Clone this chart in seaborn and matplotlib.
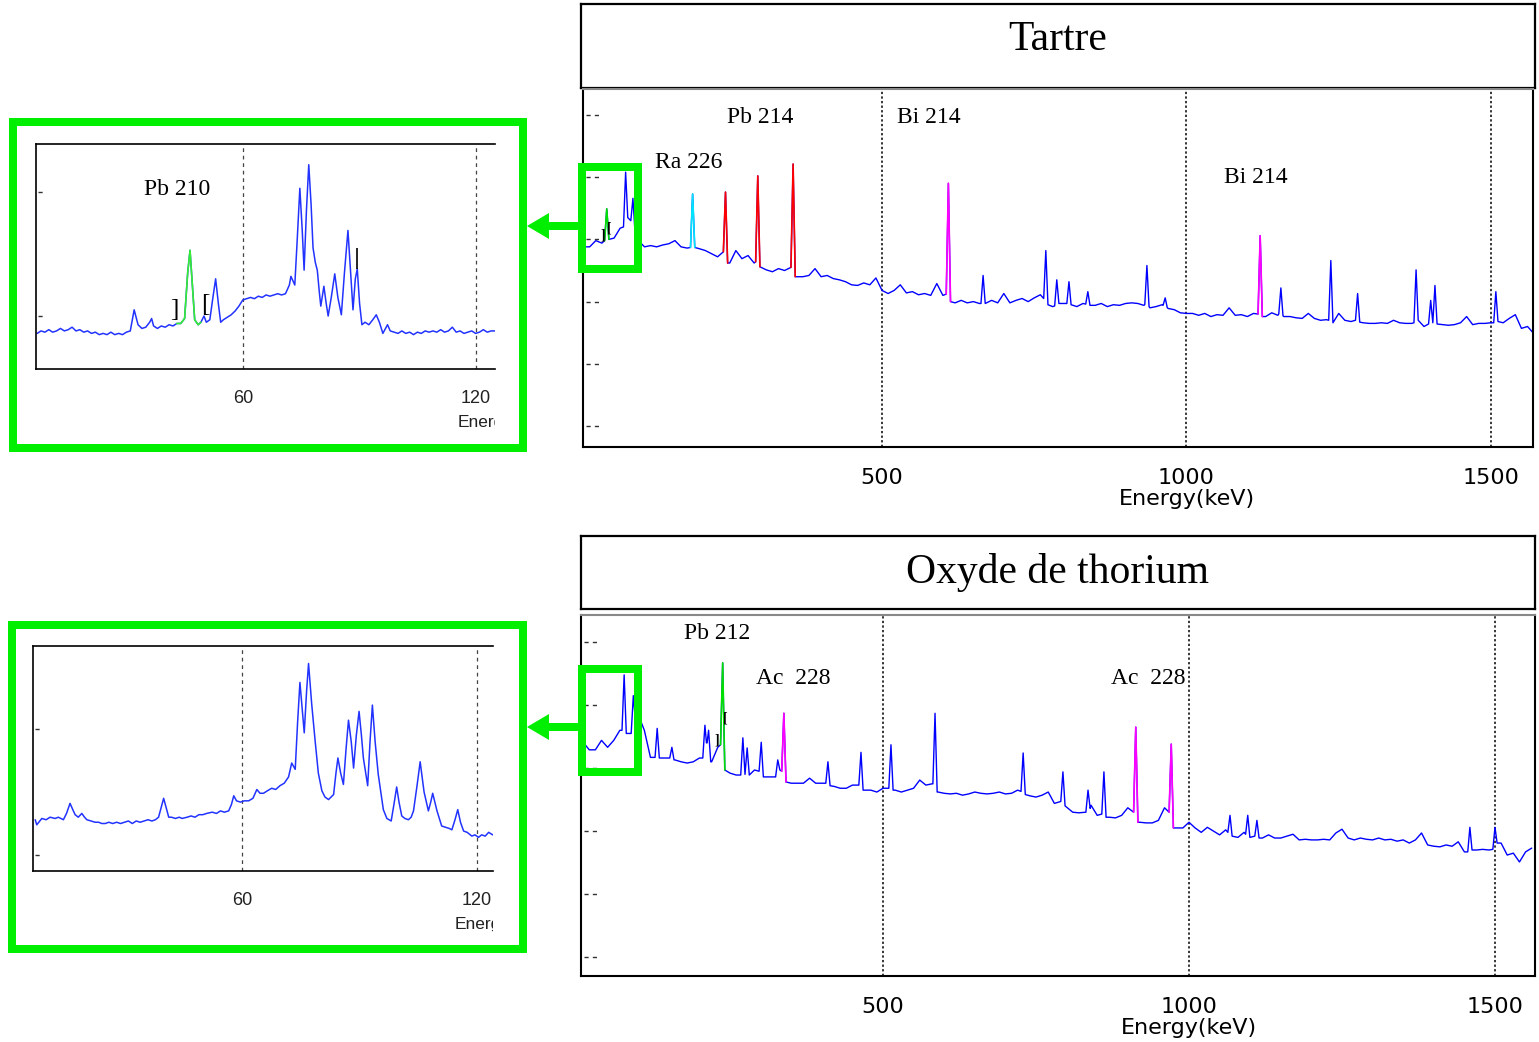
import numpy as np
import pandas as pd
import matplotlib
matplotlib.use('Agg')
import matplotlib.pyplot as plt
import seaborn as sns
from matplotlib.patches import Rectangle, Polygon
from matplotlib.transforms import Bbox, TransformedBbox

sns.set_style('white')
plt.rcParams['font.family'] = ['DejaVu Sans']
plt.rcParams['text.color'] = 'black'
plt.rcParams['xtick.labelcolor'] = 'black'

# ---- data: levels are log10(counts) as shown on the screens ----
# Tartre, baseline every 10 keV from 10 keV
tartre_base = [
    2.88, 2.88, 2.98, 2.94, 3.04, 3.02, 3.18, 3.38, 3.22, 2.98,
    2.88, 2.90, 2.88, 2.91, 2.93, 2.98, 2.88, 2.86, 2.88, 2.85,
    2.82, 2.77, 2.72, 2.82, 2.62, 2.82, 2.69, 2.74, 2.62, 2.56,
    2.51, 2.48, 2.53, 2.50, 2.56, 2.40, 2.40, 2.42, 2.53, 2.40,
    2.42, 2.37, 2.35, 2.32, 2.27, 2.26, 2.30, 2.27, 2.38, 2.18,
    2.13, 2.18, 2.27, 2.14, 2.16, 2.11, 2.13, 2.10, 2.29, 2.10,
    2.02, 1.98, 2.02, 1.98, 2.00, 1.97, 1.97, 2.02, 1.98, 2.13,
    1.98, 2.02, 2.05, 2.00, 2.06, 2.11, 1.98, 1.92, 1.98, 1.97,
    1.95, 1.92, 1.97, 1.94, 1.94, 1.97, 1.92, 1.95, 1.94, 1.97,
    1.98, 1.97, 1.94, 1.90, 1.92, 1.95, 1.89, 1.87, 1.82, 1.81,
    1.81, 1.78, 1.81, 1.76, 1.79, 1.78, 1.90, 1.78, 1.79, 1.76,
    1.81, 1.84, 1.76, 1.82, 1.78, 1.76, 1.76, 1.74, 1.73, 1.81,
    1.73, 1.70, 1.71, 1.66, 1.81, 1.70, 1.68, 1.70, 1.66, 1.65,
    1.65, 1.66, 1.65, 1.70, 1.66, 1.65, 1.65, 1.73, 1.60, 1.66,
    1.73, 1.63, 1.62, 1.63, 1.66, 1.76, 1.63, 1.65, 1.65, 1.66,
    1.70, 1.66, 1.73, 1.79, 1.57, 1.60, 1.49]
# peaks: energy, top, left foot, right foot
tartre_peaks = [
    (48, 3.49, 2.98, 3.00), (79, 4.08, 3.20, 3.35), (91, 3.66, 3.30, 3.10),
    (189, 3.73, 2.87, 2.87), (243, 3.76, 2.80, 2.62), (296, 4.02, 2.64, 2.56),
    (354, 4.21, 2.55, 2.40), (609, 3.90, 2.12, 2.00), (666, 2.42, 1.97, 1.97),
    (769, 2.82, 2.05, 1.95), (787, 2.35, 1.93, 1.97), (807, 2.32, 1.97, 1.95),
    (838, 2.16, 1.96, 1.94), (935, 2.58, 1.95, 1.92), (965, 2.06, 1.94, 1.90),
    (1121, 3.06, 1.80, 1.76), (1155, 2.22, 1.80, 1.77), (1237, 2.66, 1.70, 1.66),
    (1281, 2.13, 1.70, 1.67), (1377, 2.51, 1.66, 1.70), (1401, 2.02, 1.64, 1.66),
    (1408, 2.26, 1.66, 1.64), (1508, 2.16, 1.66, 1.68)]
tartre_roi = [(48, '#00e000'), (189, '#00e5ff'), (243, '#ff0000'), (296, '#ff0000'),
              (354, '#ff0000'), (609, '#ff00ff'), (1121, '#ff00ff')]
tartre_labels = [('Pb 214', 300, 4.96), ('Ra 226', 183, 4.24),
                 ('Bi 214', 577, 4.96), ('Bi 214', 1114, 4.0)]

# Oxyde de thorium
thorium_base = [
    3.41, 3.29, 3.29, 3.44, 3.33, 3.44, 3.60, 3.55, 3.75, 3.85,
    3.60, 3.17, 3.20, 3.16, 3.16, 3.13, 3.10, 3.08, 3.10, 3.16,
    3.40, 3.10, 3.33, 2.97, 2.92, 2.89, 2.90, 2.89, 2.97, 2.90,
    2.86, 2.86, 2.97, 2.80, 2.76, 2.76, 2.76, 2.84, 2.76, 2.76,
    2.74, 2.71, 2.68, 2.68, 2.73, 2.78, 2.65, 2.65, 2.62, 2.68,
    2.66, 2.65, 2.62, 2.65, 2.68, 2.81, 2.73, 2.75, 2.62, 2.60,
    2.59, 2.60, 2.57, 2.59, 2.62, 2.60, 2.59, 2.60, 2.62, 2.59,
    2.60, 2.65, 2.60, 2.56, 2.54, 2.57, 2.62, 2.44, 2.49, 2.38,
    2.30, 2.29, 2.30, 2.41, 2.25, 2.25, 2.22, 2.21, 2.25, 2.37,
    2.30, 2.14, 2.13, 2.13, 2.17, 2.37, 2.20, 2.05, 2.05, 2.14,
    2.05, 1.98, 2.06, 2.00, 1.94, 2.02, 2.00, 1.90, 1.98, 1.90,
    1.92, 1.89, 1.94, 1.89, 1.89, 1.92, 1.95, 1.86, 1.87, 1.86,
    1.86, 1.87, 1.86, 1.97, 2.03, 1.89, 1.86, 1.89, 1.87, 1.86,
    1.89, 1.86, 1.87, 1.84, 1.86, 1.81, 1.86, 1.97, 1.78, 1.76,
    1.75, 1.78, 1.76, 1.83, 1.67, 1.70, 1.70, 1.71, 1.70, 1.75,
    1.81, 1.62, 1.65, 1.51, 1.67, 1.73]
thorium_peaks = [
    (77, 4.48, 3.60, 3.55), (92, 4.15, 3.55, 3.75), (131, 3.63, 3.17, 3.16),
    (155, 3.33, 3.16, 3.13), (209, 3.68, 3.16, 3.40), (215, 3.60, 3.40, 3.10),
    (238, 4.67, 3.37, 2.97), (271, 3.48, 2.89, 2.90), (278, 3.32, 2.90, 2.89),
    (301, 3.41, 2.95, 2.86), (328, 3.13, 2.86, 2.97), (338, 3.87, 2.95, 2.78),
    (410, 3.10, 2.76, 2.72), (464, 3.25, 2.73, 2.65), (513, 3.37, 2.68, 2.65),
    (585, 3.87, 2.75, 2.62), (729, 3.24, 2.63, 2.58), (794, 2.94, 2.47, 2.40),
    (835, 2.65, 2.30, 2.36), (861, 2.94, 2.27, 2.22), (913, 3.65, 2.30, 2.14),
    (971, 3.38, 2.30, 2.05), (1067, 2.25, 1.98, 1.92), (1096, 2.25, 1.95, 1.90),
    (1111, 2.17, 1.92, 1.89), (1459, 2.06, 1.67, 1.70), (1500, 2.06, 1.71, 1.81)]
thorium_roi = [(238, '#00e000'), (338, '#ff00ff'), (913, '#ff00ff'), (971, '#ff00ff')]
thorium_labels = [('Pb 212', 229, 5.13), ('Ac  228', 353, 4.43), ('Ac  228', 933, 4.43)]

# zoomed low-energy screens
tartre_zoom_e = [7, 8, 9, 10, 11, 12, 13, 14, 15, 16, 17, 18, 19, 20, 21, 22, 23, 24, 25, 26,
                 27, 28, 29, 30, 31, 32, 33, 34, 35, 36, 36.5, 37, 38, 39, 40, 41, 42, 43, 44, 45,
                 45.8, 46.4, 47, 47.6, 48.5, 49.2, 50, 50.6, 51.5, 52.3, 53, 53.7, 54.3, 55, 56,
                 57, 58, 59, 60, 61, 62, 63, 64, 65, 66, 67, 68, 69, 70, 71, 72, 72.4, 73.4, 74,
                 74.7, 75.3, 75.8, 76.4, 77.0, 77.6, 78.1, 78.7, 79.2, 79.7, 80.1, 80.9, 81.5, 82,
                 82.8, 83.7, 84.5, 85.4, 86.2, 87.1, 87.8, 88.4, 89, 89.5, 90.1, 90.7, 91.5, 92.5,
                 93.5, 94.4, 95.2, 96.1, 97.3, 98, 99, 100, 101, 102, 103, 104, 105, 106, 107,
                 108, 109, 110, 111, 112, 113, 114, 115, 116, 117, 118, 119, 120, 121, 122, 123,
                 124, 125]
tartre_zoom_l = [1.86, 1.88, 1.87, 1.89, 1.87, 1.88, 1.90, 1.88, 1.89, 1.91, 1.88, 1.89, 1.87,
                 1.88, 1.86, 1.87, 1.85, 1.86, 1.85, 1.87, 1.85, 1.86, 1.85, 1.87, 1.88, 2.05,
                 1.93, 1.90, 1.91, 1.95, 1.98, 1.92, 1.90, 1.92, 1.91, 1.93, 1.92, 1.94, 1.94,
                 1.98, 2.35, 2.53, 2.25, 1.97, 1.93, 1.95, 2.00, 1.95, 1.97, 2.15, 2.30, 2.10,
                 1.95, 1.97, 1.99, 2.01, 2.04, 2.08, 2.13, 2.14, 2.15, 2.14, 2.16, 2.15, 2.17,
                 2.16, 2.17, 2.18, 2.17, 2.18, 2.25, 2.32, 2.25, 2.60, 3.03, 2.70, 2.37, 2.85,
                 3.22, 2.90, 2.55, 2.43, 2.37, 2.20, 2.08, 2.24, 2.10, 2.00, 2.15, 2.34, 2.15,
                 2.01, 2.35, 2.69, 2.35, 2.05, 2.30, 2.38, 2.10, 1.93, 1.95, 1.93, 1.97, 2.01,
                 1.95, 1.86, 1.93, 1.88, 1.87, 1.86, 1.88, 1.86, 1.87, 1.85, 1.87, 1.86, 1.88,
                 1.87, 1.88, 1.87, 1.89, 1.87, 1.88, 1.91, 1.87, 1.88, 1.86, 1.87, 1.88, 1.86,
                 1.87, 1.89, 1.87, 1.88, 1.88]
tartre_zoom_roi = (42.6, 49.2)

thorium_zoom_e = [7.2, 7.6, 8.9, 10, 11, 12.3, 13.1, 14.4, 15.2, 16.1, 16.8, 17.4, 18.2, 19.1,
                  19.8, 20.4, 21.5, 22.5, 23.4, 24.2, 25.1, 26, 27, 28, 29, 30, 31, 32, 33, 34,
                  35, 36, 37, 37.9, 38.7, 39.4, 40.0, 40.6, 41.3, 42, 43, 44, 44.7, 46, 47, 48,
                  49, 50, 51, 52.4, 53.5, 54.5, 55.5, 56.6, 57.3, 57.9, 58.6, 59.6, 60.6, 61.7,
                  62.8, 63.8, 64.6, 65.5, 66.5, 67.6, 68.6, 69.7, 70.8, 71.9, 72.7, 73.6, 74.2,
                  74.8, 75.4, 75.9, 76.5, 77.0, 77.8, 78.7, 79.5, 80.4, 81.2, 82.1, 83.4, 84.0,
                  84.5, 85.2, 85.9, 86.6, 87.2, 87.9, 88.5, 89.2, 89.9, 90.5, 91.0, 92.1, 92.7,
                  93.3, 94.0, 94.8, 96.1, 97.0, 98.1, 98.8, 99.5, 100.1, 100.8, 101.6, 102.5,
                  103.2, 103.8, 104.7, 105.5, 106.5, 107.6, 108.2, 108.7, 109.8, 111.0, 112,
                  113, 113.6, 114.4, 115.1, 115.8, 116.6, 117.5, 118.7, 119.5, 120.4, 121.2,
                  122.1, 123, 124, 124.5]
thorium_zoom_l = [1.28, 1.24, 1.29, 1.28, 1.30, 1.29, 1.30, 1.28, 1.33, 1.41, 1.36, 1.32, 1.30,
                  1.33, 1.30, 1.28, 1.27, 1.26, 1.26, 1.25, 1.25, 1.26, 1.25, 1.26, 1.25, 1.26,
                  1.27, 1.25, 1.27, 1.26, 1.27, 1.28, 1.27, 1.28, 1.30, 1.38, 1.45, 1.38, 1.30,
                  1.30, 1.29, 1.30, 1.29, 1.30, 1.31, 1.30, 1.32, 1.32, 1.33, 1.34, 1.33, 1.35,
                  1.34, 1.35, 1.40, 1.47, 1.43, 1.42, 1.43, 1.43, 1.45, 1.52, 1.49, 1.49, 1.51,
                  1.53, 1.52, 1.55, 1.57, 1.62, 1.73, 1.68, 2.05, 2.37, 2.15, 1.97, 2.30, 2.52,
                  2.20, 1.90, 1.65, 1.51, 1.46, 1.44, 1.48, 1.65, 1.77, 1.65, 1.56, 1.85, 2.07,
                  1.90, 1.69, 1.95, 2.14, 1.95, 1.77, 1.55, 1.90, 2.19, 1.90, 1.64, 1.36, 1.29,
                  1.27, 1.40, 1.54, 1.42, 1.31, 1.29, 1.28, 1.30, 1.35, 1.55, 1.74, 1.50, 1.35,
                  1.42, 1.49, 1.35, 1.23, 1.22, 1.21, 1.20, 1.28, 1.36, 1.26, 1.19, 1.18, 1.15,
                  1.16, 1.14, 1.16, 1.15, 1.18, 1.16, 1.17]

main_ticks = [500, 1000, 1500]
zoom_ticks = [60, 120]

W, H = 1539, 1042
BLUE = '#0000ff'
GREEN = '#00ee00'
SERIF = 'Liberation Serif'

fig = plt.figure(figsize=(W / 100, H / 100), dpi=100)


def box(x0, y0, x1, y1):
    return [x0 / W, 1 - y1 / H, (x1 - x0) / W, (y1 - y0) / H]


def build(base, peaks, half=3.5):
    e = 10 + 10 * np.arange(len(base))
    pe = np.array([p[0] for p in peaks])
    keep = np.array([np.min(np.abs(pe - v)) > half + 1 for v in e])
    xs = list(e[keep])
    ys = list(np.array(base)[keep])
    for en, top, fl, fr in peaks:
        xs += [en - half, en, en + half]
        ys += [fl, top, fr]
    order = np.argsort(np.array(xs, dtype=float), kind='stable')
    return pd.DataFrame({'energy': np.array(xs, dtype=float)[order],
                         'level': np.array(ys)[order]})


def title_box(rect, text, ypos):
    ax = fig.add_axes(box(*rect))
    ax.set_xticks([])
    ax.set_yticks([])
    for s in ax.spines.values():
        s.set_color('black')
        s.set_linewidth(1.6)
    ax.text(0.5, ypos, text, ha='center', va='center', fontsize=30,
            family=SERIF, color='black', transform=ax.transAxes)


def main_panel(rect, df, roi, labels, xlim, ylim, brackets):
    ax = fig.add_axes(box(*rect))
    sns.lineplot(data=df, x='energy', y='level', ax=ax, color=BLUE, lw=1.0,
                 estimator=None, sort=False)
    for en, col in roi:
        sub = df[(df['energy'] - en).abs() <= 4]
        ax.plot(sub['energy'], sub['level'], color=col, lw=1.2)
    ax.set_xlim(*xlim)
    ax.set_ylim(*ylim)
    ax.set_xlabel('')
    ax.set_ylabel('')
    ax.set_yticks([])
    ax.set_xticks(main_ticks)
    ax.set_xticklabels([str(t) for t in main_ticks])
    ax.tick_params(axis='x', direction='out', length=7, width=0.8, color='#555555',
                   pad=8, labelsize=16, labelcolor='black')
    for t in main_ticks:
        ax.axvline(t, color='black', lw=1.1, ls=(0, (1.5, 1.5)), zorder=0)
    ax.hlines(range(0, 6), 0.003, 0.017, transform=ax.get_yaxis_transform(),
              colors='#333333', lw=1, linestyles=(0, (3, 3)))
    for s in ax.spines.values():
        s.set_color('black')
        s.set_linewidth(1.5)
    ax.spines['top'].set_color('#888888')
    for text, en, lv in labels:
        ax.text(en, lv, text, ha='center', va='center', fontsize=17, family=SERIF,
                color='black')
    for ch, en, lv, fs in brackets:
        ax.text(en, lv, ch, ha='center', va='center', fontsize=fs, family=SERIF,
                fontweight='bold', color='black')
    ax.text(1000, -0.145, 'Energy(keV)', transform=ax.get_xaxis_transform(),
            ha='center', va='center', fontsize=16, color='black')
    return ax


def zoom_panel(rect, energies, levels, xlim, ylim, yt, label_pos):
    ax = fig.add_axes(box(*rect))
    df = pd.DataFrame({'energy': energies, 'level': levels})
    sns.lineplot(data=df, x='energy', y='level', ax=ax, color='#2233ff', lw=1.1,
                 estimator=None, sort=False)
    ax.set_xlim(*xlim)
    ax.set_ylim(*ylim)
    ax.set_xlabel('')
    ax.set_ylabel('')
    ax.set_yticks([])
    ax.set_xticks(zoom_ticks)
    ax.set_xticklabels([str(t) for t in zoom_ticks], family='Liberation Sans')
    ax.tick_params(axis='x', direction='inout', length=10, width=1, color='#333333',
                   pad=10, labelsize=13, labelcolor='#222222')
    for t in zoom_ticks:
        ax.axvline(t, color='#444444', lw=0.9, ls=(0, (3, 3)), zorder=0)
    ax.hlines(yt, 0.004, 0.022, transform=ax.get_yaxis_transform(),
              colors='#333333', lw=1, linestyles=(0, (3, 3)))
    ax.spines['right'].set_visible(False)
    for k in ['left', 'top', 'bottom']:
        ax.spines[k].set_color('black')
        ax.spines[k].set_linewidth(1.2)
    x0, y0 = label_pos
    t = fig.text(x0 / W, 1 - y0 / H, 'Energy(keV)', ha='left', va='center',
                 fontsize=12.5, family='Liberation Sans', color='#222222')
    t.set_clip_box(TransformedBbox(Bbox.from_extents(0, 0, rect[2] / W, 1),
                                   fig.transFigure))
    t.set_clip_on(True)
    return ax


# ---- top: Tartre ----
title_box((581, 4, 1535, 88), 'Tartre', 0.57)
main_panel((583, 89, 1533, 447), build(tartre_base, tartre_peaks), tartre_roi,
           tartre_labels, (9, 1569), (-0.336, 5.416),
           [(']', 42, 3.07, 10), ('[', 53, 3.18, 10)])

ax1z = zoom_panel((36, 144, 495, 369), tartre_zoom_e, tartre_zoom_l, (6.7, 125),
                  (1.573, 3.387), [2, 3], (458, 422))
zdf = pd.DataFrame({'energy': tartre_zoom_e, 'level': tartre_zoom_l})
seg = zdf[(zdf['energy'] >= tartre_zoom_roi[0]) & (zdf['energy'] <= tartre_zoom_roi[1])]
ax1z.plot(seg['energy'], seg['level'], color='#33ee33', lw=1.2)
ax1z.text(43.0, 3.02, 'Pb 210', ha='center', va='center', fontsize=17, family=SERIF,
          color='black')
ax1z.text(42.3, 2.05, ']', ha='center', va='center', fontsize=18, family=SERIF,
          color='black')
ax1z.text(50.3, 2.09, '[', ha='center', va='center', fontsize=18, family=SERIF,
          color='black')
ax1z.vlines(89.5, 2.38, 2.55, color='black', lw=1.2)

# ---- bottom: Oxyde de thorium ----
title_box((581, 536, 1535, 609), 'Oxyde de thorium', 0.5)
main_panel((581, 615, 1535, 976), build(thorium_base, thorium_peaks), thorium_roi,
           thorium_labels, (6.5, 1565.4), (-0.30, 5.43),
           [(']', 229, 3.45, 10), ('[', 242, 3.8, 10)])

zoom_panel((33, 646, 493, 871), thorium_zoom_e, thorium_zoom_l, (6.64, 124.1),
           (0.873, 2.659), [1, 2], (455, 924))

# ---- green frames and arrows ----
ov = fig.add_axes([0, 0, 1, 1], zorder=20)
ov.set_xlim(0, W)
ov.set_ylim(H, 0)
ov.axis('off')
ov.patch.set_alpha(0)
lw_px = 8 * 0.72
for x0, y0, x1, y1 in [(13, 122, 523, 448), (12, 625, 523, 949),
                       (582, 167, 638, 269), (582, 669, 638, 772)]:
    ov.add_patch(Rectangle((x0, y0), x1 - x0, y1 - y0, fill=False,
                           edgecolor=GREEN, lw=lw_px, joinstyle='miter'))
for yc in [226, 727]:
    ov.plot([546, 580], [yc, yc], color=GREEN, lw=lw_px, solid_capstyle='butt')
    ov.add_patch(Polygon([(527, yc), (549, yc - 13), (549, yc + 13)],
                         closed=True, color=GREEN, lw=0))

fig.savefig('out.png', dpi=100)
